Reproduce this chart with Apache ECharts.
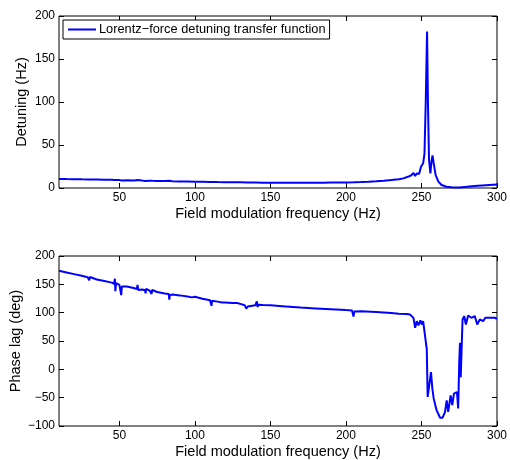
<!DOCTYPE html>
<html>
<head>
<meta charset="utf-8">
<script src="https://cdn.jsdelivr.net/npm/echarts@6/dist/echarts.min.js"></script>
<style>
html,body{margin:0;padding:0;background:#fff;}
#c{width:510px;height:460px;}
</style>
</head>
<body>
<div id="c"></div>
<script>
var xTicks = [50, 100, 150, 200, 250, 300];
var magTicks = [0, 50, 100, 150, 200];
var phaseTicks = [-100, -50, 0, 50, 100, 150, 200];

var freqMag = [10,15,20,25,30,35,40,45,46.5,47,47.5,48,50,51,51.5,52,55,60,62,63,65,67,68,70,71,72,75,80,83,85,90,95,100,105,110,111,112,115,120,125,130,135,140,145,150,155,160,165,170,175,180,185,190,195,200,205,210,215,220,225,230,235,238,241,243,244.7,245.8,246.9,248.4,249.7,251.1,252,252.8,253.7,254.3,255,255.9,256.6,257.3,258.1,259.4,261.2,263.3,266.6,270,275,280,285,290,295,300];
var magValues = [10.6,10.4,10.3,10.1,10.0,9.8,9.6,9.5,9.4,11,8.5,9.4,9.3,10.8,8.6,9.2,9.0,8.8,9.3,8.7,8.6,8.2,8.6,8.4,9.0,8.3,8.2,8.0,8.3,7.8,7.6,7.5,7.4,7.3,7.1,7.5,7.0,6.9,6.8,6.7,6.6,6.4,6.3,6.2,6.2,6.1,6.1,6.1,6.1,6.2,6.2,6.2,6.3,6.4,6.5,6.6,6.9,7.3,7.8,8.4,9.2,10.2,11.2,13,14.5,17.5,14,17,16.3,24.8,28.7,40,98,182,98,32.6,17,30,38,28.7,15,7.4,3.5,1.5,0.9,0.6,1.4,2.3,3.0,3.5,4];

var freqPhase = [10,15,20,25,29,30,30.5,31,35,40,45,46.5,47,47.3,47.8,50,50.8,51.2,51.6,55,60,61.5,62,62.5,63,65,67,67.3,67.7,70,71,71.3,71.7,75,80,82.7,83,83.4,85,90,95,98,99,100,101,105,110,110.8,111,111.3,115,118,119,120,125,128,130,133,134,135,136,140,141,141.5,142,145,150,160,170,180,190,200,204,205,205.5,210,220,230,235,240,242.5,244.7,245.8,246.9,248,249.3,250.2,251.1,252.4,253.5,254.1,255,256.3,257.2,258.1,260,262.3,264,265.6,266.7,267.7,269.3,270.4,271.5,272.6,273.5,274.3,275,275.5,276,276.5,277.2,278.3,279.4,280.9,283.1,285.3,286.9,288.6,290.8,292.3,295.2,298.5,300];
var phaseValues = [174,171,168,165,162.5,157,163,161.5,158.5,156,153,151,160,138,152,149,150,131,146,146,143,141.5,149,140,142,141,139.5,134,142,139,139,133,140,136.5,134,133,123,131,132,130.5,128.5,127,126,128,125,124.5,122,121,112,121,119.5,118,116,118,117,117,115.5,113,107,111,113,113,120,110,114,113.5,113,111,109,107.5,106,104.5,104,93,102,102.5,101,99.5,98.3,97.5,96.6,90.8,73.3,85,77.4,86.6,79,85,82,35.5,-48.8,-46,-5,-34,-51.7,-72,-85.4,-85.4,-75,-54.6,-75,-46,-63,-43,-46,-40,-69,12,47,-14,30,88,94,79,95,91,94,79,88,85,91,91,91,89];

var FONT = 'Liberation Sans';
var chart = echarts.init(document.getElementById('c'), null, {renderer: 'canvas'});

function pairs(xs, ys){ return xs.map(function(x,i){ return [x, ys[i]]; }); }
function fmt(v){ return v < 0 ? '\u2212' + Math.abs(v) : String(v); }

function xAxisDef(gi, showLabel, pos){
  return {
    type: 'value', gridIndex: gi, min: 10, max: 300, position: pos,
    name: showLabel ? 'Field modulation frequency (Hz)' : '',
    nameLocation: 'middle', nameGap: 18, nameMoveOverlap: false,
    nameTextStyle: {fontFamily: FONT, fontSize: 14.5, color: '#000', verticalAlign: 'top'},
    axisLine: {show: false, onZero: false},
    splitLine: {show: false},
    axisTick: {show: true, inside: true, length: 5, customValues: xTicks, lineStyle: {color: '#000'}},
    axisLabel: {show: showLabel, customValues: xTicks, fontFamily: FONT, fontSize: 12, color: '#000', margin: 4, formatter: fmt}
  };
}
function yAxisDef(gi, ticks, min, max, name, showLabel, pos, gap){
  return {
    type: 'value', gridIndex: gi, min: min, max: max, position: pos,
    name: showLabel ? name : '',
    nameLocation: 'middle', nameGap: gap || 0, nameRotate: 90, nameMoveOverlap: false,
    nameTextStyle: {fontFamily: FONT, fontSize: 14.5, color: '#000'},
    axisLine: {show: false, onZero: false},
    splitLine: {show: false},
    axisTick: {show: true, inside: true, length: 5, customValues: ticks, lineStyle: {color: '#000'}},
    axisLabel: {show: showLabel, customValues: ticks, fontFamily: FONT, fontSize: 12, color: '#000', margin: 4, formatter: fmt}
  };
}

var option = {
  animation: false,
  backgroundColor: '#fff',
  grid: [
    {left: 59, top: 16, width: 440, height: 172, show: true, borderColor: '#000', borderWidth: 1, backgroundColor: '#fff'},
    {left: 59, top: 256, width: 440, height: 172, show: true, borderColor: '#000', borderWidth: 1, backgroundColor: '#fff'}
  ],
  xAxis: [
    xAxisDef(0, true, 'bottom'),
    xAxisDef(1, true, 'bottom'),
    xAxisDef(0, false, 'top'),
    xAxisDef(1, false, 'top')
  ],
  yAxis: [
    yAxisDef(0, magTicks, 0, 200, 'Detuning (Hz)', true, 'left', 30),
    yAxisDef(1, phaseTicks, -100, 200, 'Phase lag (deg)', true, 'left', 36),
    yAxisDef(0, magTicks, 0, 200, '', false, 'right'),
    yAxisDef(1, phaseTicks, -100, 200, '', false, 'right')
  ],
  legend: {
    show: true,
    data: ['Lorentz\u2212force detuning transfer function'],
    left: 63, top: 20,
    orient: 'horizontal',
    backgroundColor: '#fff',
    borderColor: '#000', borderWidth: 1, borderRadius: 0,
    padding: [3, 4, 3, 5],
    itemWidth: 28, itemHeight: 2, itemGap: 4,
    icon: 'rect',
    textStyle: {fontFamily: FONT, fontSize: 12.8, color: '#000', padding: [0, 0, 0, -2]}
  },
  series: [
    {
      name: 'Lorentz\u2212force detuning transfer function',
      type: 'line', xAxisIndex: 0, yAxisIndex: 0,
      data: pairs(freqMag, magValues),
      symbol: 'none', showSymbol: false,
      lineStyle: {color: '#0000ff', width: 2},
      itemStyle: {color: '#0000ff'},
      silent: true
    },
    {
      name: 'phase',
      type: 'line', xAxisIndex: 1, yAxisIndex: 1,
      data: pairs(freqPhase, phaseValues),
      symbol: 'none', showSymbol: false,
      lineStyle: {color: '#0000ff', width: 2},
      itemStyle: {color: '#0000ff'},
      silent: true
    }
  ]
};
chart.setOption(option);
</script>
</body>
</html>
